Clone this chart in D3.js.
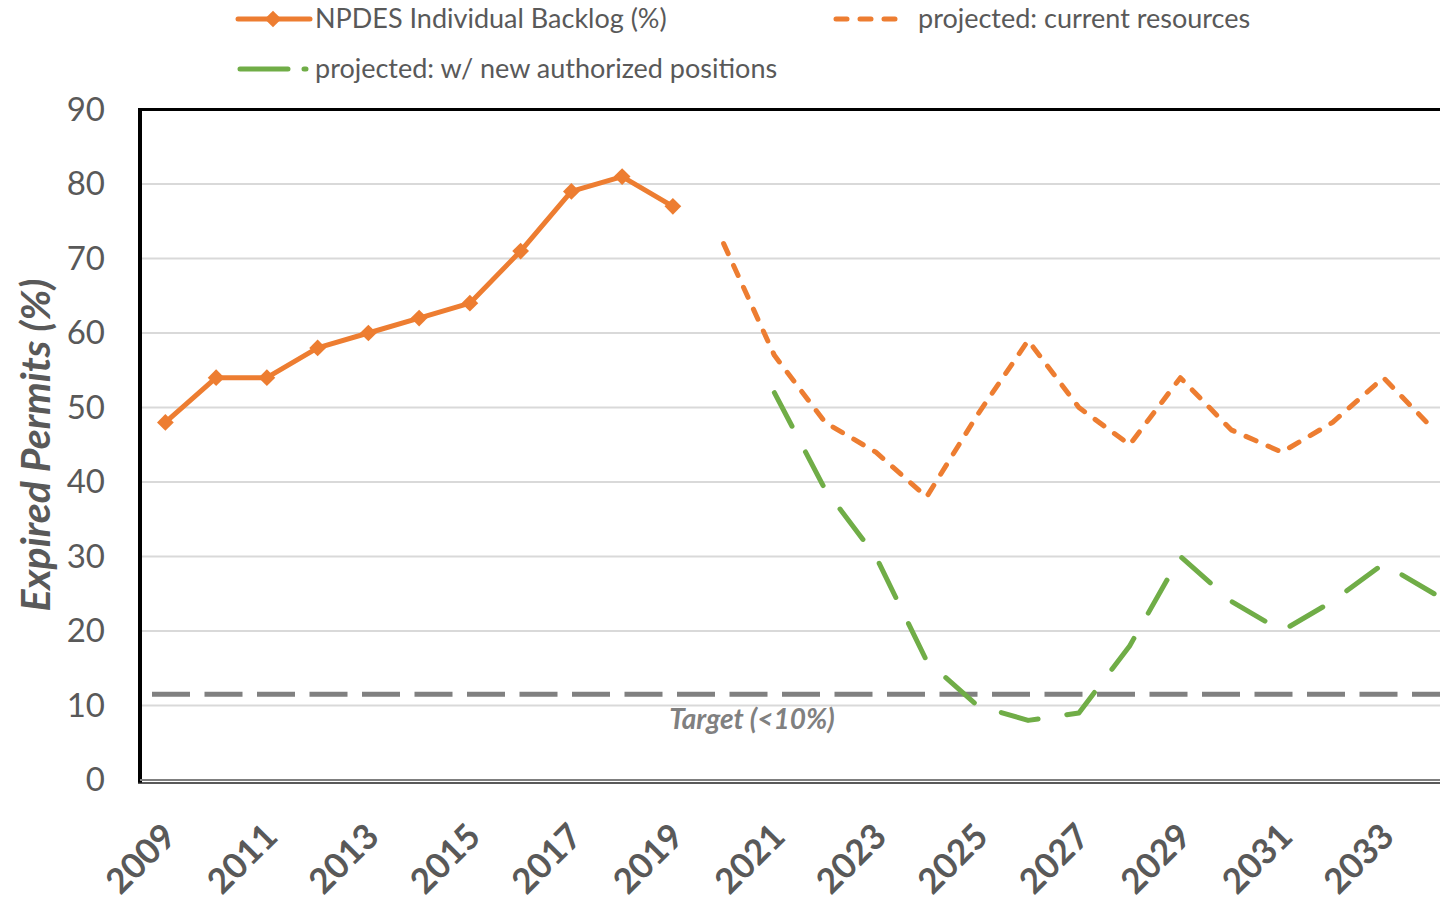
<!DOCTYPE html>
<html>
<head>
<meta charset="utf-8">
<script src="https://cdn.jsdelivr.net/npm/d3@7"></script>
<style>
  html, body { margin: 0; padding: 0; background: #fff; overflow: hidden; }
  svg { display: block; font-family: Lato, "Open Sans", sans-serif; }
</style>
</head>
<body>
<svg id="chart" width="1440" height="901"></svg>
<script>
// years on the category axis
const years = [2009, 2010, 2011, 2012, 2013, 2014, 2015, 2016, 2017, 2018, 2019,
  2020, 2021, 2022, 2023, 2024, 2025, 2026, 2027, 2028, 2029, 2030, 2031, 2032, 2033, 2034];

// actual backlog 2009-2019
const backlogYears = [2009, 2010, 2011, 2012, 2013, 2014, 2015, 2016, 2017, 2018, 2019];
const backlog = [48, 54, 54, 58, 60, 62, 64, 71, 79, 81, 77];

// projection with current resources 2020-2034
const currentYears = [2020, 2021, 2022, 2023, 2024, 2025, 2026, 2027, 2028, 2029, 2030, 2031, 2032, 2033, 2034];
const currentRes = [72, 57, 48, 44, 38, 49, 59, 50, 45, 54, 47, 44, 48, 54, 47];

// projection with new positions 2021-2034
const newYears = [2021, 2022, 2023, 2024, 2025, 2026, 2027, 2028, 2029, 2030, 2031, 2032, 2033, 2034];
const newPositions = [52, 39, 30, 16, 10, 8, 9, 18, 30, 24, 20, 24, 29, 25];

const target = 11.5;
const yTicks = [0, 10, 20, 30, 40, 50, 60, 70, 80, 90];
const xTickLabels = [2009, 2011, 2013, 2015, 2017, 2019, 2021, 2023, 2025, 2027, 2029, 2031, 2033];

const orange = '#ED7D31';
const green = '#70AD47';
const textGray = '#595959';

const plotLeft = 140, plotTop = 109.5, plotBottom = 780;
const step = 50.75;
const plotRight = plotLeft + years.length * step; // runs past the window edge

const svg = d3.select('#chart');

const x = d3.scaleBand()
    .domain(years)
    .range([plotLeft, plotRight])
    .padding(0);
const cx = (yr) => x(yr) + x.bandwidth() / 2;

const y = d3.scaleLinear()
    .domain([0, 90])
    .range([plotBottom, plotTop]);

// gridlines
svg.append('g')
    .selectAll('line')
    .data(yTicks.filter(d => d > 0 && d < 90))
    .enter()
    .append('line')
    .attr('x1', plotLeft)
    .attr('x2', plotRight)
    .attr('y1', d => y(d))
    .attr('y2', d => y(d))
    .attr('stroke', '#d9d9d9')
    .attr('stroke-width', 2);

// y axis labels
const yAxis = svg.append('g')
    .attr('transform', `translate(${plotLeft}, 0)`)
    .call(d3.axisLeft(y).tickValues(yTicks).tickSize(0).tickPadding(35));
yAxis.select('.domain').remove();
yAxis.selectAll('text')
    .attr('fill', textGray)
    .style('font-size', '33px')
    .style('font-family', 'Lato, sans-serif');

// x axis labels, rotated
const xAxis = svg.append('g')
    .attr('transform', `translate(0, ${plotBottom})`)
    .call(d3.axisBottom(x).tickValues(xTickLabels).tickSize(0).tickPadding(0));
xAxis.select('.domain').remove();
xAxis.selectAll('text')
    .attr('fill', textGray)
    .style('font-size', '35px')
    .style('font-weight', 'bold')
    .style('font-family', 'Lato, sans-serif')
    .style('text-anchor', 'end')
    .attr('y', 0)
    .attr('dy', '0.35em')
    .attr('transform', 'translate(4, 50) rotate(-45)');

// target line
svg.append('line')
    .attr('x1', plotLeft)
    .attr('x2', plotRight)
    .attr('y1', y(target))
    .attr('y2', y(target))
    .attr('stroke', '#808080')
    .attr('stroke-width', 5)
    .attr('stroke-dasharray', '38,14.5')
    .attr('stroke-dashoffset', 40.5);

svg.append('text')
    .attr('x', 752)
    .attr('y', 729)
    .attr('text-anchor', 'middle')
    .attr('fill', '#808080')
    .style('font-size', '28px')
    .style('font-weight', 'bold')
    .style('font-style', 'italic')
    .text('Target (<10%)');

const line = d3.line()
    .x(d => cx(d[0]))
    .y(d => y(d[1]));

// projected: current resources
svg.append('path')
    .datum(d3.zip(currentYears, currentRes))
    .attr('d', line)
    .attr('fill', 'none')
    .attr('stroke', orange)
    .attr('stroke-width', 5)
    .attr('stroke-linecap', 'round')
    .attr('stroke-linejoin', 'round')
    .attr('stroke-dasharray', '11,13');

// projected: new positions
svg.append('path')
    .datum(d3.zip(newYears, newPositions))
    .attr('d', line)
    .attr('fill', 'none')
    .attr('stroke', green)
    .attr('stroke-width', 5)
    .attr('stroke-linecap', 'round')
    .attr('stroke-linejoin', 'round')
    .attr('stroke-dasharray', '38,29');

// actual backlog
const actual = d3.zip(backlogYears, backlog);
svg.append('path')
    .datum(actual)
    .attr('d', line)
    .attr('fill', 'none')
    .attr('stroke', orange)
    .attr('stroke-width', 5)
    .attr('stroke-linejoin', 'round');

const diamond = d3.symbol().type(d3.symbolSquare).size(140);
svg.append('g')
    .selectAll('path')
    .data(actual)
    .enter()
    .append('path')
    .attr('d', diamond)
    .attr('transform', d => `translate(${cx(d[0])}, ${y(d[1])}) rotate(45)`)
    .attr('fill', orange);

// plot frame
svg.append('line') // left
    .attr('x1', plotLeft).attr('x2', plotLeft)
    .attr('y1', plotTop - 1.5).attr('y2', plotBottom + 3)
    .attr('stroke', '#000').attr('stroke-width', 4);
svg.append('line') // top
    .attr('x1', plotLeft - 2).attr('x2', plotRight)
    .attr('y1', plotTop).attr('y2', plotTop)
    .attr('stroke', '#000').attr('stroke-width', 3);
svg.append('line') // axis line
    .attr('x1', plotLeft).attr('x2', plotRight)
    .attr('y1', plotBottom).attr('y2', plotBottom)
    .attr('stroke', '#7f7f7f').attr('stroke-width', 2);
svg.append('line') // bottom border
    .attr('x1', plotLeft - 2).attr('x2', plotRight)
    .attr('y1', plotBottom + 3).attr('y2', plotBottom + 3)
    .attr('stroke', '#222').attr('stroke-width', 1.5);

// y axis title
svg.append('text')
    .attr('transform', 'translate(50, 445) rotate(-90)')
    .attr('text-anchor', 'middle')
    .attr('fill', textGray)
    .style('font-size', '41px')
    .style('font-weight', 'bold')
    .style('font-style', 'italic')
    .text('Expired Permits (%)');

// legend
const legend = svg.append('g');
legend.append('line')
    .attr('x1', 238).attr('x2', 310).attr('y1', 19).attr('y2', 19)
    .attr('stroke', orange).attr('stroke-width', 5).attr('stroke-linecap', 'round');
legend.append('path')
    .attr('d', diamond)
    .attr('transform', 'translate(273, 19) rotate(45)')
    .attr('fill', orange);
legend.append('text')
    .attr('x', 315).attr('y', 19).attr('dy', '0.35em')
    .attr('fill', textGray).style('font-size', '27px')
    .text('NPDES Individual Backlog (%)');

legend.append('line')
    .attr('x1', 836).attr('x2', 904).attr('y1', 19).attr('y2', 19)
    .attr('stroke', orange).attr('stroke-width', 5).attr('stroke-linecap', 'round')
    .attr('stroke-dasharray', '11,13');
legend.append('text')
    .attr('x', 918).attr('y', 19).attr('dy', '0.35em')
    .attr('fill', textGray).style('font-size', '27px')
    .text('projected: current resources');

legend.append('line')
    .attr('x1', 240).attr('x2', 306).attr('y1', 69).attr('y2', 69)
    .attr('stroke', green).attr('stroke-width', 5).attr('stroke-linecap', 'round')
    .attr('stroke-dasharray', '48,16');
legend.append('text')
    .attr('x', 315).attr('y', 69).attr('dy', '0.35em')
    .attr('fill', textGray).style('font-size', '27px')
    .text('projected: w/ new authorized positions');
</script>
</body>
</html>
